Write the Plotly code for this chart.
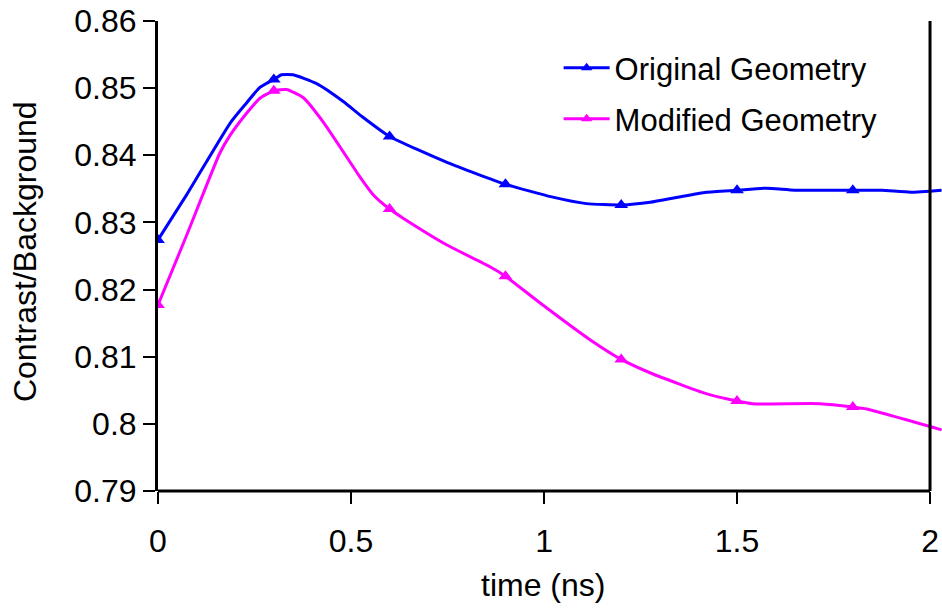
import plotly.graph_objects as go

# Contrast/background ratio vs. time for the two detector geometries
orig_t = [0, 0.074, 0.187, 0.225, 0.264, 0.3, 0.32, 0.35, 0.41, 0.48, 0.53, 0.6,
          0.75, 0.9, 1.02, 1.11, 1.2, 1.275, 1.35, 1.42, 1.5, 1.575, 1.65, 1.8,
          1.875, 1.95, 2.03]
orig_v = [0.8274, 0.8341, 0.8448, 0.8475, 0.8501, 0.8513, 0.8520, 0.8520, 0.8507,
          0.8480, 0.8457, 0.8428, 0.8389, 0.8357, 0.8338, 0.8328, 0.8326, 0.8330,
          0.8338, 0.8345, 0.8348, 0.8351, 0.8348, 0.8348, 0.8348, 0.8345, 0.8348]

mod_t = [0, 0.075, 0.16, 0.187, 0.23, 0.264, 0.3, 0.333, 0.376, 0.43, 0.523, 0.558,
         0.6, 0.636, 0.75, 0.86, 0.9, 0.99, 1.12, 1.2, 1.279, 1.42, 1.5, 1.54,
         1.715, 1.8, 1.836, 2.03]
mod_v = [0.8177, 0.8282, 0.8403, 0.8430, 0.8463, 0.8485, 0.8496, 0.8498, 0.8486,
         0.8448, 0.8368, 0.8341, 0.8320, 0.8306, 0.8266, 0.8234, 0.8220, 0.8180,
         0.8125, 0.8096, 0.8075, 0.8045, 0.8034, 0.8030, 0.8030, 0.8025, 0.8022,
         0.7991]

# sampled points shown with markers
mark_t = [0, 0.3, 0.6, 0.9, 1.2, 1.5, 1.8]
orig_mark = [0.8274, 0.8513, 0.8428, 0.8357, 0.8326, 0.8348, 0.8348]
mod_mark = [0.8177, 0.8496, 0.8320, 0.8220, 0.8096, 0.8034, 0.8025]

x_ticks = [0, 0.5, 1, 1.5, 2]
x_labels = ["0", "0.5", "1", "1.5", "2"]
y_ticks = [0.79, 0.80, 0.81, 0.82, 0.83, 0.84, 0.85, 0.86]
y_labels = ["0.79", "0.8", "0.81", "0.82", "0.83", "0.84", "0.85", "0.86"]

BLUE = "#0000FF"
MAGENTA = "#FF00FF"
FONT = "Liberation Sans, Arial, sans-serif"

fig = go.Figure()

series = [
    ("Original Geometry", orig_t, orig_v, orig_mark, BLUE, "legend"),
    ("Modified Geometry", mod_t, mod_v, mod_mark, MAGENTA, "legend2"),
]
for name, t, v, mv, color, leg in series:
    fig.add_trace(go.Scatter(x=t, y=v, mode="lines",
                             line=dict(color=color, width=3, shape="spline", smoothing=0.5),
                             showlegend=False, hoverinfo="skip"))
    fig.add_trace(go.Scatter(x=mark_t, y=mv, mode="markers",
                             marker=dict(symbol="triangle-up", size=12, color=color),
                             showlegend=False))
    fig.add_trace(go.Scatter(x=[None], y=[None], mode="lines+markers", name=name,
                             line=dict(color=color, width=3),
                             marker=dict(symbol="triangle-up", size=10, color=color),
                             legend=leg))

fig.update_layout(
    width=942, height=613,
    margin=dict(l=158, r=0, t=21, b=122),
    paper_bgcolor="white", plot_bgcolor="white",
    font=dict(family=FONT, size=32, color="black"),
    xaxis=dict(range=[0, 2.031], tickvals=x_ticks, ticktext=x_labels,
               showgrid=False, zeroline=False, showline=False,
               ticks="outside", ticklen=12, tickwidth=2, tickcolor="black",
               ticklabelstandoff=10, tickfont=dict(size=32)),
    yaxis=dict(range=[0.79, 0.86], tickvals=y_ticks, ticktext=y_labels,
               showgrid=False, zeroline=False, showline=True, linewidth=3,
               linecolor="black", ticks="outside", ticklen=12, tickwidth=2,
               tickcolor="black", tickfont=dict(size=32)),
    legend=dict(x=0.511, y=0.9, xanchor="left", yanchor="middle",
                bgcolor="rgba(0,0,0,0)", font=dict(size=31), itemwidth=46),
    legend2=dict(x=0.511, y=0.7915, xanchor="left", yanchor="middle",
                 bgcolor="rgba(0,0,0,0)", font=dict(size=31), itemwidth=46),
    shapes=[
        dict(type="line", xref="x", yref="paper", x0=0, x1=2, y0=0, y1=0,
             line=dict(color="black", width=3)),
        dict(type="line", xref="x", yref="paper", x0=2, x1=2, y0=0, y1=1,
             line=dict(color="black", width=3)),
    ],
    annotations=[
        dict(text="Contrast/Background", xref="paper", yref="paper",
             x=-0.1696, y=0.5085, xanchor="center", yanchor="middle",
             textangle=-90, showarrow=False, font=dict(size=32)),
        dict(text="time (ns)", xref="x", yref="paper", x=0.997, y=-0.2,
             xanchor="center", yanchor="middle", showarrow=False,
             font=dict(size=32)),
    ],
)

fig.write_html("out.html")
